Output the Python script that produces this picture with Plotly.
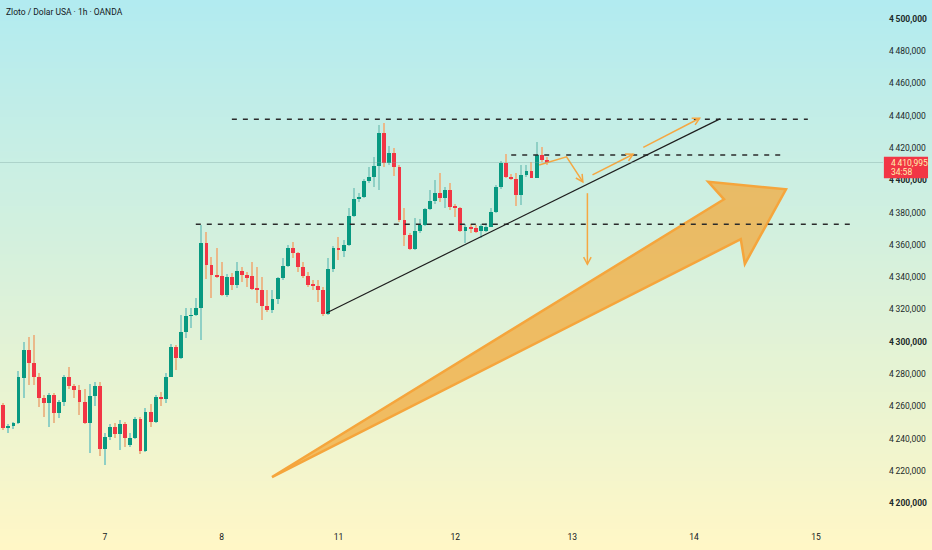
import math

import plotly.graph_objects as go

# OANDA gold, 1h candles, oldest first (position 0 = first bar on the left)
opens = [4260.9, 4246.8, 4248.0, 4249.5, 4277.8, 4294.9, 4286.7, 4278.4, 4265.4, 4261.9,
         4267.1, 4256.1, 4262.5, 4278.4, 4272.8, 4270.2, 4262.9, 4249.9, 4266.6, 4272.8,
         4233.6, 4241.2, 4247.2, 4243.1, 4248.9, 4236.1, 4240.2, 4252.2, 4232.4, 4256.7,
         4250.1, 4266.0, 4264.6, 4278.4, 4296.9, 4289.8, 4306.2, 4316.0, 4316.6, 4321.1,
         4360.9, 4347.6, 4341.4, 4340.7, 4328.9, 4339.9, 4335.2, 4343.8, 4341.4, 4340.5,
         4332.7, 4332.1, 4322.3, 4319.7, 4326.5, 4339.3, 4347.1, 4357.9, 4354.8, 4346.5,
         4340.9, 4335.2, 4334.6, 4332.1, 4317.0, 4345.2, 4358.3, 4356.4, 4359.9, 4377.9,
         4388.2, 4389.8, 4399.6, 4402.2, 4409.0, 4429.1, 4410.5, 4416.7, 4408.4, 4375.4,
         4366.1, 4357.3, 4368.8, 4372.3, 4382.0, 4387.4, 4392.3, 4388.9, 4394.0, 4383.6,
         4383.0, 4368.8, 4371.3, 4370.6, 4368.8, 4368.8, 4371.3, 4380.2, 4396.0, 4410.9,
         4402.2, 4400.6, 4390.9, 4403.3, 4405.9, 4401.6, 4415.7, 4412.6]
highs = [4262.3, 4249.1, 4250.5, 4282.1, 4300.1, 4303.0, 4304.2, 4280.5, 4267.1, 4268.5,
         4268.5, 4263.9, 4279.4, 4284.6, 4273.7, 4273.2, 4270.6, 4273.9, 4274.9, 4274.9,
         4243.7, 4249.1, 4249.5, 4251.6, 4250.5, 4243.5, 4253.6, 4253.6, 4259.2, 4261.3,
         4267.1, 4269.1, 4280.5, 4298.4, 4298.0, 4316.6, 4320.7, 4320.7, 4327.3, 4372.3,
         4368.2, 4352.7, 4358.3, 4349.6, 4341.8, 4342.4, 4349.6, 4346.5, 4343.4, 4349.2,
         4346.5, 4340.3, 4332.1, 4332.1, 4340.3, 4352.1, 4359.9, 4361.6, 4355.8, 4349.6,
         4343.4, 4338.2, 4338.2, 4334.2, 4351.7, 4359.3, 4364.7, 4363.0, 4382.6, 4395.0,
         4391.9, 4400.6, 4408.4, 4414.6, 4434.2, 4435.3, 4421.2, 4419.8, 4409.5, 4382.6,
         4367.2, 4376.5, 4375.8, 4382.6, 4394.0, 4400.2, 4404.3, 4396.0, 4398.1, 4385.3,
         4383.6, 4373.0, 4373.0, 4372.3, 4373.0, 4373.4, 4382.6, 4397.1, 4412.1, 4416.3,
         4403.9, 4404.3, 4409.5, 4409.5, 4411.5, 4423.9, 4420.8, 4414.6]
lows = [4245.4, 4243.5, 4245.8, 4249.1, 4265.0, 4273.2, 4273.2, 4259.8, 4253.6, 4247.4,
        4249.5, 4252.6, 4260.2, 4270.6, 4265.0, 4254.7, 4249.1, 4231.0, 4260.2, 4229.3,
        4223.7, 4239.2, 4240.6, 4233.0, 4235.0, 4235.0, 4239.8, 4230.3, 4231.6, 4247.2,
        4249.5, 4260.4, 4262.3, 4278.0, 4282.5, 4289.3, 4302.2, 4308.3, 4316.2, 4301.1,
        4338.9, 4327.3, 4339.3, 4328.5, 4327.9, 4332.1, 4333.1, 4337.2, 4334.2, 4332.1,
        4323.8, 4313.5, 4318.6, 4317.6, 4323.2, 4338.2, 4346.5, 4351.7, 4343.4, 4339.3,
        4334.2, 4332.1, 4324.5, 4316.2, 4316.6, 4343.4, 4350.6, 4352.3, 4359.3, 4377.1,
        4386.7, 4388.9, 4398.5, 4396.0, 4394.0, 4408.4, 4409.5, 4402.7, 4374.4, 4359.3,
        4356.8, 4356.8, 4367.5, 4371.7, 4381.6, 4385.3, 4386.7, 4382.6, 4381.6, 4377.5,
        4368.2, 4361.0, 4367.2, 4367.2, 4364.1, 4368.2, 4370.9, 4379.6, 4394.4, 4401.2,
        4400.2, 4384.1, 4384.7, 4402.2, 4401.2, 4401.2, 4411.5, 4409.5]
closes = [4246.8, 4247.0, 4249.5, 4278.4, 4294.9, 4286.7, 4278.4, 4265.4, 4261.9, 4267.1,
          4256.1, 4262.5, 4278.4, 4272.8, 4270.2, 4262.9, 4249.9, 4266.6, 4272.8, 4233.6,
          4241.2, 4247.2, 4243.1, 4248.9, 4240.6, 4240.6, 4252.2, 4232.4, 4256.7, 4250.1,
          4266.0, 4264.6, 4278.4, 4296.9, 4289.8, 4306.2, 4316.0, 4316.6, 4321.1, 4360.9,
          4347.6, 4341.4, 4340.7, 4328.9, 4339.9, 4335.2, 4343.8, 4341.4, 4339.7, 4332.7,
          4332.1, 4322.3, 4319.7, 4326.5, 4339.3, 4347.1, 4357.9, 4354.8, 4346.5, 4340.9,
          4335.2, 4334.6, 4332.1, 4317.0, 4345.2, 4357.9, 4356.8, 4359.9, 4377.9, 4388.2,
          4389.8, 4399.6, 4402.2, 4409.0, 4429.1, 4410.5, 4416.7, 4408.4, 4375.4, 4366.1,
          4357.3, 4368.8, 4372.3, 4382.0, 4387.4, 4392.3, 4388.9, 4394.0, 4383.6, 4383.0,
          4368.8, 4371.3, 4370.0, 4368.2, 4371.9, 4371.3, 4380.2, 4396.0, 4410.9, 4402.2,
          4400.6, 4390.9, 4403.3, 4405.9, 4401.6, 4415.7, 4412.6, 4411.0]

last_price = 4410.995
countdown = "34:58"

# time axis: bar position where each day starts
day_ticks = [20, 43, 66, 89, 112, 136, 160]
day_labels = ["7", "8", "11", "12", "13", "14", "15"]

price_ticks = [4200, 4220, 4240, 4260, 4280, 4300, 4320, 4340, 4360, 4380,
               4400, 4420, 4440, 4460, 4480, 4500]

# drawings, as (bar position, price)
level_top = [(45.0, 4437.8), (158.4, 4437.8)]
level_mid = [(100.0, 4415.7), (153.9, 4415.7)]
level_low = [(37.9, 4372.8), (167.3, 4372.8)]
trend_line = [(63.7, 4318.0), (141.1, 4438.0)]
small_arrows = [
    [(105.5, 4409.4), (110.9, 4414.5), (114.1, 4399.0)],
    [(116.0, 4403.3), (124.0, 4416.1)],
    [(126.0, 4420.4), (137.1, 4438.4)],
    [(115.0, 4392.0), (115.0, 4348.0)],
]
big_arrow = [(52.9, 4216.3), (141.9, 4388.2), (138.8, 4399.1), (154.1, 4394.4),
             (146.0, 4348.2), (145.2, 4363.5)]

W, H = 932, 550
M_R, M_B = 49, 20
x_range = [-0.65, 173.2]
y_range = [4183.5, 4511.6]

GREEN = "#089981"
RED = "#f23645"
ORANGE = "#f5a742"

# pixels per unit, used for the arrow heads
sx = (W - M_R) / (x_range[1] - x_range[0])
sy = (H - M_B) / (y_range[1] - y_range[0])

pos = list(range(len(opens)))
up = [c >= o for o, c in zip(opens, closes)]

fig = go.Figure()
# wicks
fig.add_trace(go.Bar(
    x=pos, base=lows, y=[h - l for h, l in zip(highs, lows)], width=0.22,
    marker=dict(color=["#8fd0c5" if u else "#eab98a" for u in up], line_width=0),
    hoverinfo="skip"))
# bodies
fig.add_trace(go.Bar(
    x=pos, base=[min(o, c) for o, c in zip(opens, closes)],
    y=[max(abs(c - o), 0.6) for o, c in zip(opens, closes)], width=0.76,
    marker=dict(color=[GREEN if u else RED for u in up], line_width=0),
    hoverinfo="skip"))

shapes = []

# background gradient, cyan at the top to pale yellow at the bottom
top_rgb, bot_rgb = (178, 235, 240), (255, 247, 198)
n = 80
y_bottom = -M_B / (H - M_B)
for i in range(n):
    t = (i + 0.5) / n
    rgb = [round(a + (b - a) * t) for a, b in zip(top_rgb, bot_rgb)]
    shapes.append(dict(
        type="rect", xref="paper", yref="paper", layer="below",
        x0=-0.01, x1=1.07,
        y0=1 - (i + 1) / n * (1 - y_bottom) - 0.002, y1=1 - i / n * (1 - y_bottom),
        fillcolor="rgb(%d,%d,%d)" % tuple(rgb), line_width=0))


def path_of(points):
    return "M " + " L ".join("%s,%s" % p for p in points)


def arrow_head(tip, tail, size=8, ang=math.radians(28)):
    dx = (tail[0] - tip[0]) * sx
    dy = (tail[1] - tip[1]) * sy
    d = math.hypot(dx, dy)
    ux, uy = dx / d, dy / d
    pts = []
    for s in (1, -1):
        rx = ux * math.cos(s * ang) - uy * math.sin(s * ang)
        ry = ux * math.sin(s * ang) + uy * math.cos(s * ang)
        pts.append((tip[0] + rx * size / sx, tip[1] + ry * size / sy))
    return path_of([pts[0], tip, pts[1]])


# big orange arrow
shapes.append(dict(
    type="path", xref="x", yref="y", path=path_of(big_arrow) + " Z",
    fillcolor="rgba(242,170,60,0.75)", line=dict(color="#f5a53c", width=2.5)))

# dashed levels
for lvl in (level_top, level_mid, level_low):
    shapes.append(dict(
        type="line", xref="x", yref="y",
        x0=lvl[0][0], y0=lvl[0][1], x1=lvl[1][0], y1=lvl[1][1],
        line=dict(color="#2b2b2b", width=1.5, dash="5px,6px")))

# rising trend line
shapes.append(dict(
    type="line", xref="x", yref="y",
    x0=trend_line[0][0], y0=trend_line[0][1], x1=trend_line[1][0], y1=trend_line[1][1],
    line=dict(color="#1e1e1e", width=1.2)))

# small scenario arrows
for pts in small_arrows:
    shapes.append(dict(type="path", xref="x", yref="y", path=path_of(pts),
                       line=dict(color=ORANGE, width=1.5)))
    shapes.append(dict(type="path", xref="x", yref="y", path=arrow_head(pts[-1], pts[-2]),
                       line=dict(color=ORANGE, width=1.5)))

# last price line and label
shapes.append(dict(
    type="line", xref="paper", yref="y", x0=0, x1=1, y0=last_price, y1=last_price,
    line=dict(color="rgba(120,160,155,0.35)", width=1)))
shapes.append(dict(
    type="rect", xref="paper", yref="y", x0=1.001, x1=1.051,
    y0=last_price + 3.6, y1=last_price - 9.8,
    fillcolor=RED, line_width=0, layer="above"))

annotations = [
    dict(text="Zloto / Dolar USA · 1h · OANDA", xref="paper", yref="paper",
         x=0.005, y=1 - 11.5 / (H - M_B), xanchor="left", yanchor="middle",
         showarrow=False, font=dict(size=8.5, color="#131722")),
    dict(text="{:,.3f}".format(last_price).replace(",", "\u2009").replace(".", ","),
         xref="paper", yref="y", x=1.0065, y=last_price, xanchor="left", yanchor="middle",
         showarrow=False, font=dict(size=8.5, color="#fff1b0")),
    dict(text=countdown, xref="paper", yref="y", x=1.0065, y=last_price - 6.0,
         xanchor="left", yanchor="middle",
         showarrow=False, font=dict(size=8.5, color="#fff1b0")),
]

tick_text = []
for p in price_ticks:
    s = "{:,}".format(p).replace(",", "\u2009") + ",000"
    tick_text.append("<b>%s</b>" % s if p % 100 == 0 else s)

fig.update_layout(
    width=W, height=H,
    margin=dict(l=0, r=M_R, t=0, b=M_B),
    paper_bgcolor="rgb(255,247,198)", plot_bgcolor="rgba(0,0,0,0)",
    barmode="overlay", bargap=0, showlegend=False, hovermode=False,
    font=dict(family="Roboto, Arial, sans-serif"),
    shapes=shapes, annotations=annotations,
    xaxis=dict(range=x_range, tickvals=day_ticks, ticktext=day_labels,
               showgrid=False, zeroline=False, showline=False, ticks="",
               tickfont=dict(size=8.5, color="#131722"), fixedrange=True),
    yaxis=dict(range=y_range, side="right", tickvals=price_ticks, ticktext=tick_text,
               showgrid=False, zeroline=False, showline=False, ticks="",
               ticklabelstandoff=5,
               tickfont=dict(size=8.5, color="#1c2a2a"), fixedrange=True),
)

fig.write_html("out.html", config={"displayModeBar": False},
               post_script="document.body.style.margin='0';")
